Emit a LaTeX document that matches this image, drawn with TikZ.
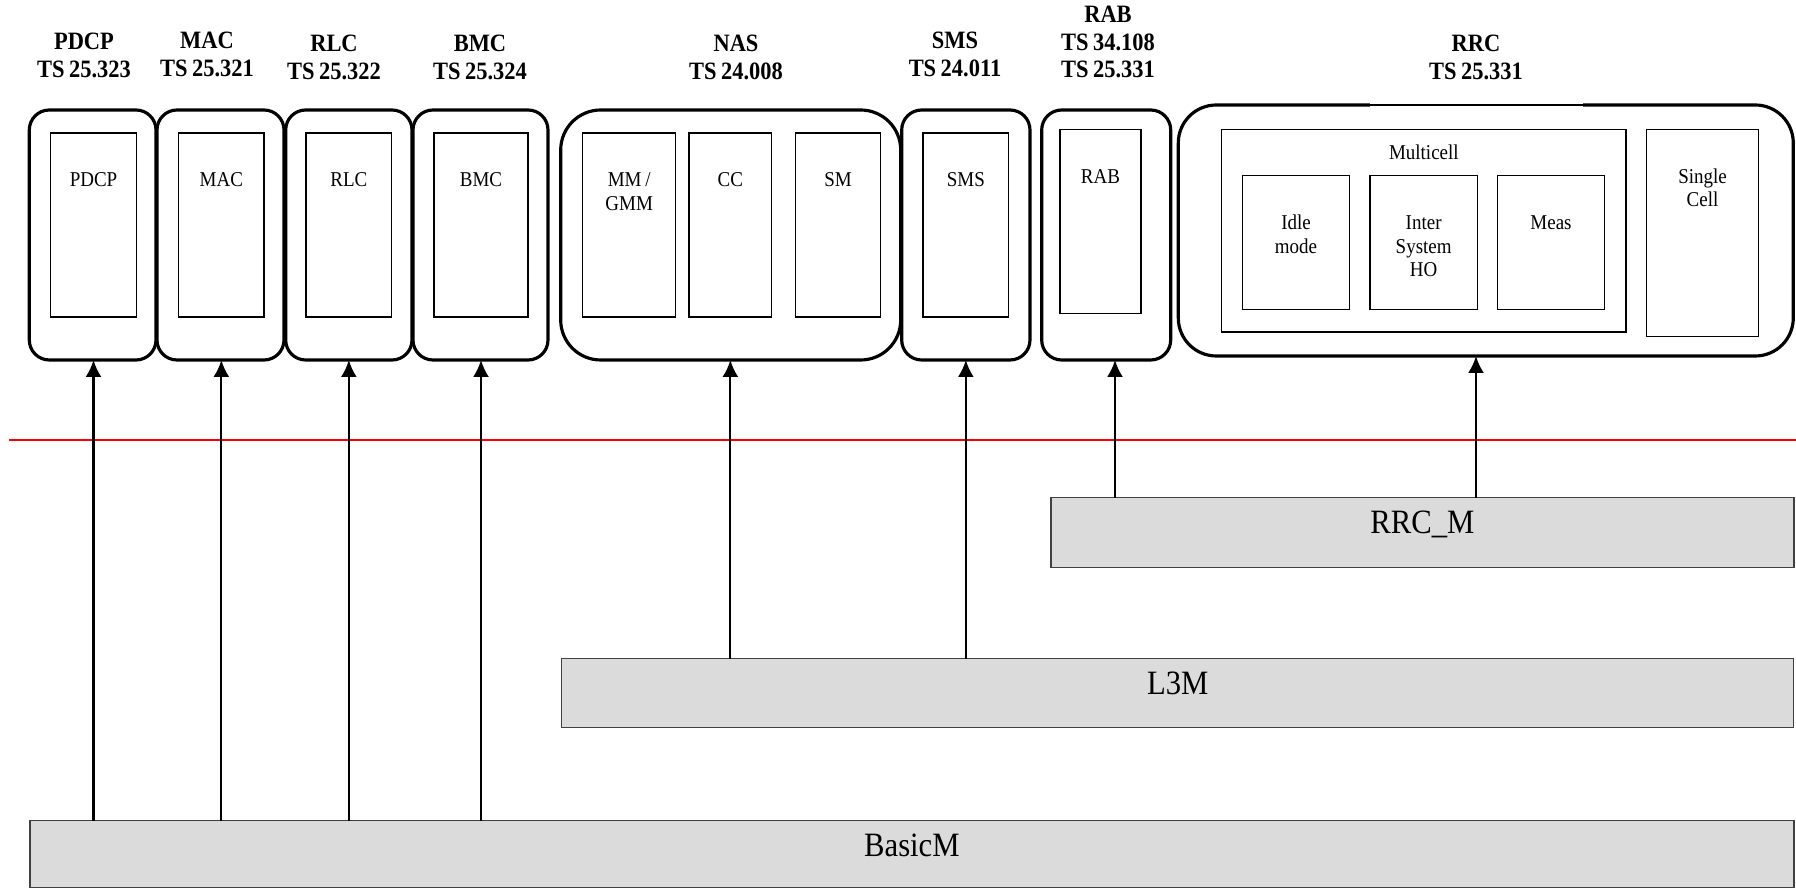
\documentclass[tikz,border=0pt]{standalone}
\usepackage{fontspec}
\setmainfont{Liberation Serif}[FakeStretch=0.9, WordSpace=0.8]
\usetikzlibrary{arrows.meta}

\begin{document}
\begin{tikzpicture}
      [x=0.1mm, y=-0.1mm,
       layer/.style={
           draw=black, line width=0.9pt,
           rounded corners=2mm,
           anchor=north west, inner sep=0pt, outer sep=0pt
         },
       mod/.style={
           draw=black, line width=0.4pt,
           anchor=north west, inner sep=0pt, outer sep=0pt,
           align=flush center, text height=5.4mm,
           font=\fontsize{6}{6.7}\selectfont
         },
       spec/.style={
           anchor=base, align=flush center, text width=20mm,
           font=\fontsize{7.1}{7.8}\selectfont\bfseries
         },
       bar/.style={
           draw=black!75, fill=black!14, line width=0.4pt,
           anchor=north west, inner sep=0pt, outer sep=0pt,
           text height=3.6mm,
           font=\fontsize{9.7}{11}\selectfont
         },
       up/.style={-{Latex[length=1.7mm, width=1.6mm]}, line width=0.65pt},
       ]
    \useasboundingbox (0,0) rectangle (1796,889);

    % protocol blocks
    \node [layer, minimum width=12.67mm, minimum height=25mm] (pdcp) at (29.3,110) {};
    \node [layer, minimum width=12.7mm, minimum height=25mm] (mac) at (157,110) {};
    \node [layer, minimum width=12.63mm, minimum height=25mm] (rlc) at (285.7,110) {};
    \node [layer, minimum width=13.5mm, minimum height=25mm] (bmc) at (413,110) {};
    \node [layer, rounded corners=4mm, minimum width=34mm, minimum height=25mm] (nas) at (560.7,110) {};
    \node [layer, minimum width=12.83mm, minimum height=25mm] (sms) at (901.7,110) {};
    \node [layer, minimum width=12.9mm, minimum height=25mm] (rab) at (1041.7,110) {};
    \node [layer, rounded corners=3.8mm, minimum width=61.5mm, minimum height=25.1mm] (rrc) at (1178.3,105) {};
    \draw [white, line width=1.1pt] (rrc.north -| 1370,0) -- (rrc.north -| 1583,0);
    \draw [line width=0.35pt] (rrc.north -| 1370,0) -- (rrc.north -| 1583,0);

    % modules
    \node [mod, text width=8.56mm, text depth=13mm] (pdcpI) at (50.7,133) {PDCP};
    \node [mod, text width=8.53mm, text depth=13mm] (macI) at (178.7,133) {MAC};
    \node [mod, text width=8.57mm, text depth=13mm] (rlcI) at (306,133) {RLC};
    \node [mod, text width=9.4mm, text depth=13mm] (bmcI) at (434,133) {BMC};
    \node [mod, text width=9.3mm, text depth=13mm] (mmI) at (582.7,133) {MM /\\GMM};
    \node [mod, text width=8.27mm, text depth=13mm] (ccI) at (689,133) {CC};
    \node [mod, text width=8.54mm, text depth=13mm] (smI) at (795.3,133) {SM};
    \node [mod, text width=8.57mm, text depth=13mm] (smsI) at (923,133) {SMS};
    \node [mod, text width=8.1mm, text depth=13mm] (rabI) at (1060,129.3) {RAB};
    \node [mod, text width=40.43mm, text height=3mm, text depth=17.27mm] (multi) at (1221.7,129.3) {Multicell};
    \node [mod, text width=10.66mm, text depth=7.96mm] (idle) at (1242.7,175.7) {Idle\\mode};
    \node [mod, text width=10.73mm, text depth=7.96mm] (inter) at (1370,175.7) {Inter\\System\\HO};
    \node [mod, text width=10.66mm, text depth=7.96mm] (meas) at (1497.7,175.7) {Meas};
    \node [mod, text width=11.16mm, text depth=15.34mm] (single) at (1646.7,129.3) {Single\\Cell};

    % specification titles
    \node [spec] (pdcpT) at (84,50) {PDCP\\TS 25.323};
    \node [spec] (macT) at (207,49) {MAC\\TS 25.321};
    \node [spec] (rlcT) at (334,52) {RLC\\TS 25.322};
    \node [spec] (bmcT) at (480,52) {BMC\\TS 25.324};
    \node [spec] (nasT) at (736,52) {NAS\\TS 24.008};
    \node [spec] (smsT) at (955,49) {SMS\\TS 24.011};
    \node [spec] (rabT) at (1108,23) {RAB\\TS 34.108\\TS 25.331};
    \node [spec] (rrcT) at (1476,52) {RRC\\TS 25.331};

    % red divider
    \draw [red, line width=0.5pt] (9,440) -- (1796,440);

    % test modules
    \node [bar, minimum width=74.3mm, text depth=3.36mm] (rrcm) at (1051,497.7) {RRC\_M};
    \node [bar, minimum width=123.2mm, text depth=3.27mm] (l3m) at (561.7,658.6) {L3M};
    \node [bar, minimum width=176.4mm, text depth=3.1mm] (basic) at (29.9,820.7) {BasicM};

    \coordinate (rabx) at (1115,0);

    \draw [up] (basic.north -| pdcpI) -- (pdcp.south -| pdcpI);
    \draw [up] (basic.north -| macI) -- (mac.south -| macI);
    \draw [up] (basic.north -| rlcI) -- (rlc.south -| rlcI);
    \draw [up] (basic.north -| bmcI) -- (bmc.south -| bmcI);
    \draw [up] (l3m.north -| ccI) -- (nas.south -| ccI);
    \draw [up] (l3m.north -| smsI) -- (sms.south -| smsI);
    \draw [up] (rrcm.north -| rabx) -- (rab.south -| rabx);
    \draw [up] (rrcm.north -| rrcT) -- (rrc.south -| rrcT);

  \end{tikzpicture}
\end{document}
